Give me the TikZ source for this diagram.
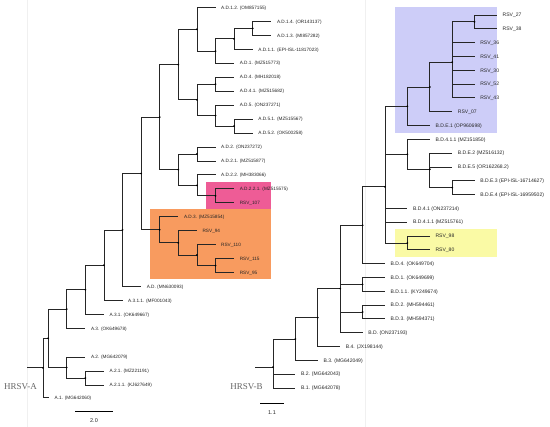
\documentclass[tikz,border=0pt]{standalone}
\usepackage{fontspec}
\setmainfont{Liberation Serif}
\newfontfamily\labsans{Liberation Sans}
\definecolor{boxblue}{RGB}{205,205,248}
\definecolor{boxyellow}{RGB}{250,250,165}
\definecolor{boxorange}{RGB}{248,155,95}
\definecolor{boxpink}{RGB}{238,92,150}
\begin{document}
\begin{tikzpicture}[x=1pt,y=-1pt,
  br/.style={line width=0.8pt, draw=black!85},
  lab/.style={anchor=west, inner xsep=5.5pt, inner ysep=0pt, text height=3.4pt, text depth=0pt,
    font={\labsans\fontsize{4.7pt}{5pt}\selectfont}, text=black!85},
  labB/.style={lab, text height=3.6pt, font={\labsans\fontsize{5.05pt}{5.5pt}\selectfont}},
  panel/.style={font={\fontsize{9pt}{10pt}\selectfont}, text=black!60, inner sep=0pt},
  scl/.style={font={\labsans\fontsize{5.5pt}{6pt}\selectfont}, text=black!85, inner sep=0pt},
  faint/.style={draw=black!6, line width=0.6pt}]
\useasboundingbox (0,0) rectangle (550,427);
\fill[white] (0,0) rectangle (550,427);
% faint panel lines
\draw[faint] (27,0) -- (27,427);
\draw[faint] (365,0) -- (365,427);
% highlight boxes
\fill[boxorange] (150,209) rectangle (271,279);
\fill[boxpink] (206,182) rectangle (271,209);
\fill[boxblue] (395,7) rectangle (497,133);
\fill[boxyellow] (395,229) rectangle (497,257);

% ===== Tree A internal nodes =====
\coordinate (RA0) at (27,367.9);
\coordinate (RA) at (43,367.9);
\coordinate (B) at (48.1,338.3);
\coordinate (C) at (66.7,309.1);
\coordinate (D) at (66.7,367.5);
\coordinate (E) at (85.3,378);
\coordinate (F) at (85.3,289.8);
\coordinate (G) at (103.9,265.2);
\coordinate (H) at (122.5,230);
\coordinate (I) at (141.1,173.5);
\coordinate (J) at (159.7,117.1);
\coordinate (N1) at (159.7,229.8);
\coordinate (K) at (178.3,64.6);
\coordinate (L) at (178.3,169.7);
\coordinate (N2) at (178.3,242.9);
\coordinate (T) at (196.9,29.3);
\coordinate (X) at (196.9,99.9);
\coordinate (U) at (196.9,154);
\coordinate (V) at (196.9,185.4);
\coordinate (N3) at (196.9,255.1);
\coordinate (S) at (215.5,51.1);
\coordinate (Y) at (215.5,84.2);
\coordinate (Z) at (215.5,115.6);
\coordinate (W) at (215.5,195.8);
\coordinate (N4) at (215.5,265.6);
\coordinate (R1) at (234.1,38.9);
\coordinate (Z2) at (234.1,126.1);
\coordinate (Q) at (252.7,28.4);

% ===== Tree A leaves =====
\node[lab] (aD12) at (215.5,7.5) {A.D.1.2. (OM857155)};
\node[lab] (aD14) at (271.3,21.45) {A.D.1.4. (OR143137)};
\node[lab] (aD13) at (271.3,35.4) {A.D.1.3. (MI857282)};
\node[lab] (aD11) at (252.7,49.35) {A.D.1.1. (EPI-ISL-11817023)};
\node[lab] (aD1) at (234.1,63.3) {A.D.1. (MZ515773)};
\node[lab] (aD4) at (234.1,77.25) {A.D.4. (MH182018)};
\node[lab] (aD41) at (234.1,91.2) {A.D.4.1. (MZ515682)};
\node[lab] (aD5) at (234.1,105.15) {A.D.5. (ON237271)};
\node[lab] (aD51) at (252.7,119.1) {A.D.5.1. (MZ515567)};
\node[lab] (aD52) at (252.7,133.05) {A.D.5.2. (OK500258)};
\node[lab] (aD2) at (215.5,147) {A.D.2. (ON237272)};
\node[lab] (aD21) at (215.5,160.95) {A.D.2.1. (MZ515877)};
\node[lab] (aD22) at (215.5,174.9) {A.D.2.2. (MH383066)};
\node[lab] (aD221) at (234.1,188.85) {A.D.2.2.1. (MZ515575)};
\node[lab] (r107) at (234.1,202.8) {RSV\_107};
\node[lab] (aD3) at (178.3,216.75) {A.D.3. (MZ515854)};
\node[lab] (r94) at (196.9,230.7) {RSV\_94};
\node[lab] (r110) at (215.5,244.65) {RSV\_110};
\node[lab] (r115) at (234.1,258.6) {RSV\_115};
\node[lab] (r95) at (234.1,272.55) {RSV\_95};
\node[lab] (aD) at (141.1,286.5) {A.D. (MN630093)};
\node[lab] (a311) at (122.5,300.45) {A.3.1.1. (MF001043)};
\node[lab] (a31) at (103.9,314.4) {A.3.1. (OK649667)};
\node[lab] (a3) at (85.3,328.35) {A.3. (OK649678)};
\node[lab] (a2) at (85.3,357) {A.2. (MG642079)};
\node[lab] (a21) at (103.9,371) {A.2.1. (MZ221191)};
\node[lab] (a211) at (103.9,385) {A.2.1.1. (KJ627649)};
\node[lab] (a1) at (49,397.5) {A.1. (MG642060)};

% ===== Tree A branches =====
\draw[br] (RA0) -- (RA);
\foreach \p/\c in {RA/B, B/C, B/D, D/E, C/F, F/G, G/H, H/I, I/J, I/N1, N1/N2, N2/N3, N3/N4,
  J/K, J/L, K/T, K/X, T/S, S/R1, R1/Q, X/Y, X/Z, Z/Z2, L/U, L/V, V/W}
  \draw[br] (\p) |- (\c);
\foreach \p/\c in {RA/a1, D/a2, E/a21, E/a211, C/a3, F/a31, G/a311, H/aD, N1/aD3, N2/r94,
  N3/r110, N4/r115, N4/r95, T/aD12, S/aD1, R1/aD11, Q/aD14, Q/aD13, Y/aD4, Y/aD41, Z/aD5,
  Z2/aD51, Z2/aD52, U/aD2, U/aD21, V/aD22, W/aD221, W/r107}
  \draw[br] (\p) |- (\c.west);
\foreach \n in {RA,B,C,D,E,F,G,H,I,J,N1,K,L,N2,T,X,U,V,N3,S,Y,Z,W,N4,R1,Z2,Q}
  \fill[black] (\n) circle[radius=1pt];

% ===== Tree B internal nodes =====
\coordinate (RB0) at (255,367.1);
\coordinate (RB) at (273,367.1);
\coordinate (b15) at (295.4,339);
\coordinate (b14) at (317.8,317.6);
\coordinate (b13) at (340.2,288.6);
\coordinate (b10) at (362.6,225.3);
\coordinate (b11) at (362.6,284.4);
\coordinate (b12) at (362.6,312);
\coordinate (b9) at (385,186.8);
\coordinate (b4) at (407.4,106.2);
\coordinate (b7) at (407.4,154.3);
\coordinate (b8) at (407.4,243);
\coordinate (b3) at (429.8,87);
\coordinate (b6) at (429.8,169.3);
\coordinate (b2) at (452.2,62.2);
\coordinate (b5) at (452.2,187.7);
\coordinate (b1) at (474.6,21.9);

% ===== Tree B leaves =====
\node[labB] (bR27) at (497,15) {RSV\_27};
\node[labB] (bR38) at (497,28.8) {RSV\_38};
\node[labB] (bR36) at (474.6,42.6) {RSV\_36};
\node[labB] (bR41) at (474.6,56.4) {RSV\_41};
\node[labB] (bR30) at (474.6,70.3) {RSV\_30};
\node[labB] (bR52) at (474.6,84.1) {RSV\_52};
\node[labB] (bR43) at (474.6,97.9) {RSV\_43};
\node[labB] (bR07) at (452.2,111.7) {RSV\_07};
\node[labB] (bDE1) at (429.8,125.5) {B.D.E.1 (OP960698)};
\node[labB] (bD411a) at (429.8,139.3) {B.D.4.1.1 (MZ151850)};
\node[labB] (bDE2) at (452.2,153.2) {B.D.E.2 (MZ516132)};
\node[labB] (bDE5) at (452.2,167) {B.D.E.5 (OR162268.2)};
\node[labB] (bDE3) at (474.6,180.8) {B.D.E.3 (EPI-ISL-16714627)};
\node[labB] (bDE4) at (474.6,194.6) {B.D.E.4 (EPI-ISL-16959502)};
\node[labB] (bD41) at (407.4,208.4) {B.D.4.1 (ON237214)};
\node[labB] (bD411b) at (407.4,222.2) {B.D.4.1.1 (MZ515761)};
\node[labB] (bR98) at (429.8,236) {RSV\_98};
\node[labB] (bR80) at (429.8,249.9) {RSV\_80};
\node[labB] (bD4) at (385,263.7) {B.D.4. (OK649704)};
\node[labB] (bD1) at (385,277.5) {B.D.1. (OK649699)};
\node[labB] (bD11) at (385,291.3) {B.D.1.1. (KY249674)};
\node[labB] (bD2) at (385,305.1) {B.D.2. (MH594461)};
\node[labB] (bD3) at (385,318.9) {B.D.3. (MH594371)};
\node[labB] (bD) at (362.6,332.7) {B.D. (ON237193)};
\node[labB] (bB4) at (340.2,346.6) {B.4. (JX198144)};
\node[labB] (bB3) at (317.8,360.4) {B.3. (MG642049)};
\node[labB] (bB2) at (295.4,374.2) {B.2. (MG642043)};
\node[labB] (bB1) at (295.4,388) {B.1. (MG642078)};

% ===== Tree B branches =====
\draw[br] (RB0) -- (RB);
\foreach \p/\c in {RB/b15, b15/b14, b14/b13, b13/b10, b13/b11, b13/b12, b10/b9, b9/b4, b9/b7,
  b9/b8, b7/b6, b6/b5, b4/b3, b3/b2, b2/b1}
  \draw[br] (\p) |- (\c);
\foreach \p/\c in {RB/bB2, RB/bB1, b15/bB3, b14/bB4, b13/bD, b12/bD2, b12/bD3, b11/bD1, b11/bD11,
  b10/bD4, b9/bD41, b9/bD411b, b8/bR98, b8/bR80, b7/bD411a, b6/bDE2, b6/bDE5, b5/bDE3, b5/bDE4,
  b4/bDE1, b3/bR07, b2/bR36, b2/bR41, b2/bR30, b2/bR52, b2/bR43, b1/bR27, b1/bR38}
  \draw[br] (\p) |- (\c.west);
\foreach \n in {RB,b15,b14,b13,b10,b11,b12,b9,b4,b7,b8,b3,b6,b2,b5,b1}
  \fill[black] (\n) circle[radius=1pt];

% ===== panel labels and scale bars =====
\node[panel] (hA) at (20.5,387) {HRSV-A};
\node[panel] (hB) at (246.5,387) {HRSV-B};
\coordinate (sa1) at (75,411);
\coordinate (sa2) at (113,411);
\draw[line width=0.8pt] (sa1) -- (sa2);
\node[scl] (sal) at (94,421) {2.0};
\coordinate (sb1) at (260,403);
\coordinate (sb2) at (284,403);
\draw[line width=0.8pt] (sb1) -- (sb2);
\node[scl] (sbl) at (272,412.5) {1.1};
\end{tikzpicture}
\end{document}
